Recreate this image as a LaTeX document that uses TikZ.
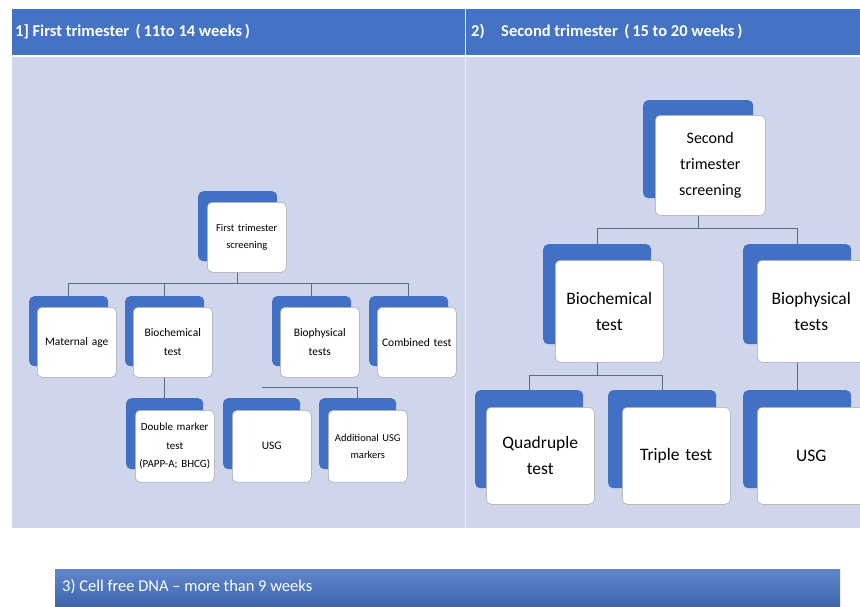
\documentclass[tikz,border=0pt]{standalone}
\usepackage{fontspec}
\setmainfont{Carlito}
\usetikzlibrary{calc}
\definecolor{hdrblue}{RGB}{68,114,196}
\definecolor{panelblue}{RGB}{207,213,234}
\definecolor{boxblue}{RGB}{66,112,196}
\definecolor{linegray}{RGB}{92,106,140}

\begin{document}
\begin{tikzpicture}[x=1pt, y=-1pt,
    backbox/.style={fill=boxblue, rounded corners=5pt, anchor=north west, inner sep=0pt},
    frontbox/.style={fill=white, draw=black!35, line width=0.5pt, rounded corners=5pt, anchor=north west, inner sep=2pt, align=center},
    smallback/.style={backbox, minimum width=79pt, minimum height=70pt},
    smallfront/.style={frontbox, minimum width=79pt, minimum height=70pt, text width=75pt, font=\fontsize{11.5}{18.5}\selectfont},
    bigback/.style={backbox, minimum width=108pt, minimum height=100pt},
    bigfront/.style={frontbox, minimum width=108pt, minimum height=100pt, text width=104pt, font=\fontsize{17.5}{26}\selectfont},
    hdrtext/.style={anchor=west, text=white, inner sep=0pt},
    link/.style={draw=linegray, line width=0.8pt}]

    \clip (0,0) rectangle (860,606);
    \fill[white] (0,0) rectangle (860,606);

    % header bar and panels
    \fill[hdrblue] (12,9) rectangle (860,55);
    \fill[panelblue] (12,57) rectangle (860,528);
    \draw[white!60!panelblue, line width=1pt] (465,9) -- (465,528);
    \node[hdrtext, font=\fontsize{16.5}{18}\selectfont\bfseries] (hdrA) at (15,32) {1] First trimester \,(\,11to 14 weeks\,)};
    \node[hdrtext, font=\fontsize{16.5}{18}\selectfont\bfseries] (hdrB) at (471,32) {2)\quad Second trimester \,(\,15 to 20 weeks\,)};

    % bottom bar
    \shade[top color=hdrblue!85!white, bottom color=hdrblue!85!black] (55,569) rectangle (840,612);
    \node[hdrtext, font=\fontsize{16.5}{18}\selectfont] (hdrC) at (62,587) {3) Cell free DNA -- more than 9 weeks};

    % first trimester: back boxes
    \node[smallback] (ftB) at (198,191) {};
    \node[smallback] (matB) at (29,296) {};
    \node[smallback] (biocB) at (125,296) {};
    \node[smallback] (biopB) at (272,296) {};
    \node[smallback] (combB) at (369,296) {};
    \node[smallback, minimum width=77pt, minimum height=71pt] (dblB) at (126,398) {};
    \node[smallback, minimum width=77pt, minimum height=71pt] (usgB) at (223,398) {};
    \node[smallback, minimum width=77pt, minimum height=71pt] (addB) at (319,398) {};

    % first trimester: connectors
    \draw[link] (ftB.south) -- +(0,22) coordinate (ftbar);
    \draw[link] (matB.north) |- (ftbar) -| (combB.north);
    \draw[link] (biocB.north) -- (biocB.north |- ftbar);
    \draw[link] (biopB.north) -- (biopB.north |- ftbar);
    \draw[link] (biocB.south) -- (dblB.north);
    \draw[link] (addB.north) |- ($(usgB.north)+(0,-11)$);

    % first trimester: front boxes
    \node[smallfront, font=\fontsize{10.5}{17}\selectfont] (ft) at (207,202) {First trimester\\screening};
    \node[smallfront] (mat) at (37,307) {Maternal age};
    \node[smallfront] (bioc) at (133,307) {Biochemical\\test};
    \node[smallfront] (biop) at (280,307) {Biophysical\\tests};
    \node[smallfront] (comb) at (377,307) {Combined test};
    \node[smallfront, minimum width=77pt, minimum height=72pt, font=\fontsize{11}{18.5}\selectfont] (dbl) at (135,410) {Double marker\\test\\(PAPP-A; BHCG)};
    \node[smallfront, minimum width=77pt, minimum height=72pt] (usg) at (232,410) {USG};
    \node[smallfront, minimum width=77pt, minimum height=72pt, font=\fontsize{10.5}{17}\selectfont] (add) at (328,410) {Additional USG\\markers};

    % second trimester: back boxes
    \node[bigback, minimum width=110pt, minimum height=98pt] (stB) at (643,100) {};
    \node[bigback] (bioc2B) at (543,244) {};
    \node[bigback] (biop2B) at (743,244) {};
    \node[bigback, minimum height=98pt] (quadB) at (475,390) {};
    \node[bigback, minimum height=98pt] (tripB) at (608,390) {};
    \node[bigback, minimum height=98pt] (usg2B) at (743,390) {};

    % second trimester: connectors
    \draw[link] (stB.south) -- +(0,30) coordinate (stbar);
    \draw[link] (bioc2B.north) |- (stbar) -| (biop2B.north);
    \draw[link] (bioc2B.south) -- +(0,31) coordinate (b2bar);
    \draw[link] (quadB.north) |- (b2bar) -| (tripB.north);
    \draw[link] (biop2B.south) -- (usg2B.north);

    % second trimester: front boxes
    \node[bigfront, minimum width=110pt, font=\fontsize{16}{26}\selectfont] (st) at (655,115) {Second\\trimester\\screening};
    \node[bigfront, minimum height=102pt] (bioc2) at (555,260) {Biochemical\\test};
    \node[bigfront, minimum height=102pt] (biop2) at (757,260) {Biophysical\\tests};
    \node[bigfront, minimum height=97pt] (quad) at (486,407) {Quadruple\\test};
    \node[bigfront, minimum height=97pt] (trip) at (622,407) {Triple test};
    \node[bigfront, minimum height=97pt] (usg2) at (757,407) {USG};

\end{tikzpicture}
\end{document}
